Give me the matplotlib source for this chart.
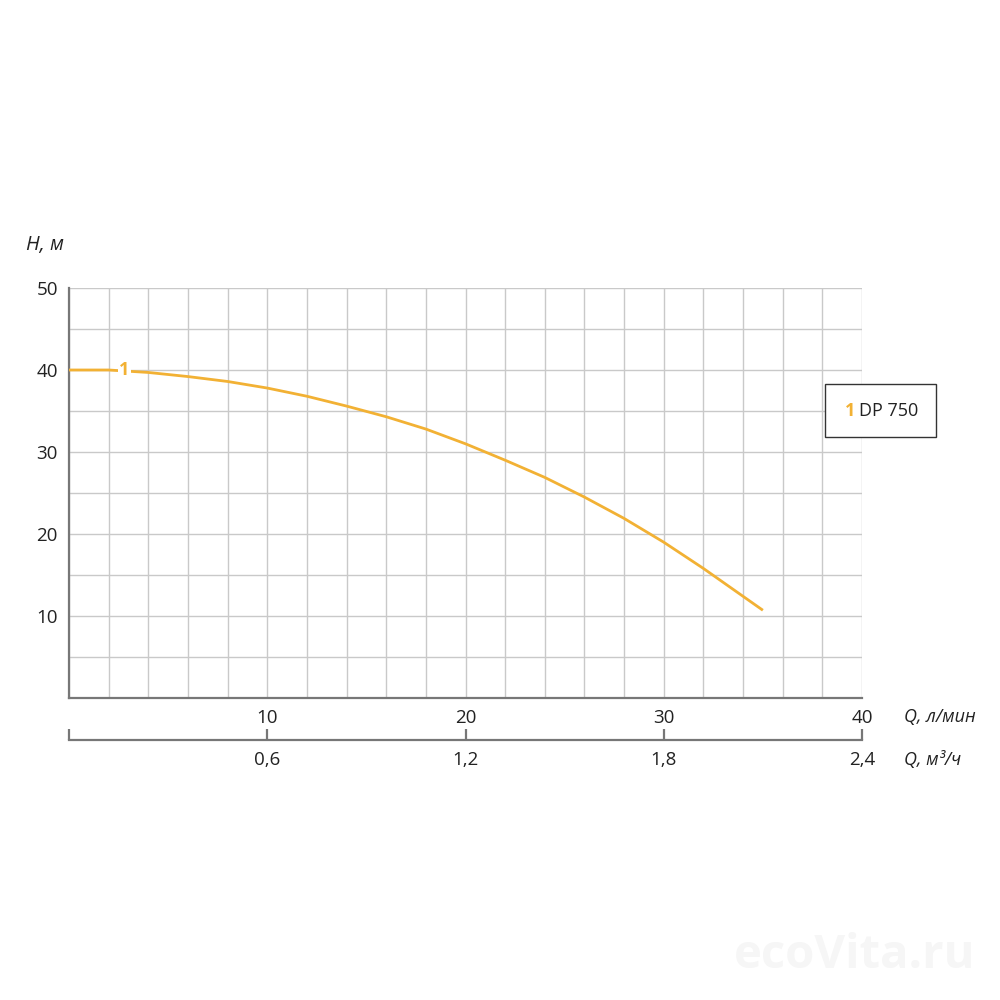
import matplotlib.pyplot as plt
from matplotlib.patches import Rectangle

plt.rcParams['font.family'] = ['Open Sans', 'DejaVu Sans']

# pump curve DP 750
q_lmin = [0, 2, 4, 6, 8, 10, 12, 14, 16, 18, 20, 22, 24, 26, 28, 30, 32, 34, 35]
head_m = [40.0, 40.0, 39.7, 39.2, 38.6, 37.8, 36.8, 35.6, 34.3, 32.8, 31.0,
          29.0, 26.9, 24.5, 21.9, 19.0, 15.8, 12.4, 10.7]

q_ticks = [10, 20, 30, 40]
h_ticks = [10, 20, 30, 40, 50]
m3h_ticks = [0, 0.6, 1.2, 1.8, 2.4]
m3h_labels = ['', '0,6', '1,2', '1,8', '2,4']

curve_color = '#f2b134'
axis_color = '#777777'
grid_color = '#c9c9c9'

fig = plt.figure(figsize=(10, 10), dpi=100)
ax = fig.add_axes([0.069, 0.302, 0.793, 0.41])

ax.plot(q_lmin, head_m, color=curve_color, lw=2.0, zorder=3, solid_capstyle='butt')
ax.text(2.8, 40, '1', color=curve_color, fontsize=13, fontweight='bold',
        ha='center', va='center', zorder=4,
        bbox=dict(facecolor='white', edgecolor='none', pad=1))

ax.set_xlim(0, 40)
ax.set_ylim(0, 50)
ax.set_xticks(range(0, 41, 2), minor=True)
ax.set_yticks(range(0, 51, 5), minor=True)
ax.set_xticks(q_ticks)
ax.set_yticks(h_ticks)
ax.grid(True, which='both', color=grid_color, lw=1)
ax.set_axisbelow(True)
ax.tick_params(which='both', length=0, labelsize=13.5, colors='#222222')
ax.tick_params(axis='x', pad=8)
ax.tick_params(axis='y', pad=8)
for s in ['top', 'right']:
    ax.spines[s].set_visible(False)
for s in ['left', 'bottom']:
    ax.spines[s].set_color(axis_color)
    ax.spines[s].set_linewidth(1.6)

# second flow scale in m3/h
sec = ax.secondary_xaxis(-0.1024, functions=(lambda q: q * 0.06, lambda m: m / 0.06))
sec.set_xticks(m3h_ticks)
sec.set_xticklabels(m3h_labels)
sec.spines['bottom'].set_color(axis_color)
sec.spines['bottom'].set_linewidth(1.6)
sec.tick_params(direction='in', length=8, width=1.6, color=axis_color,
                labelsize=13.5, labelcolor='#222222', pad=8)

fig.text(0.026, 0.755, 'H, м', fontsize=14.5, style='italic', color='#222222',
         va='center', ha='left')
fig.text(0.904, 0.283, 'Q, л/мин', fontsize=13, style='italic', color='#222222',
         va='center', ha='left')
fig.text(0.904, 0.240, 'Q, м³/ч', fontsize=13, style='italic', color='#222222',
         va='center', ha='left')

# legend box
fig.patches.append(Rectangle((0.825, 0.563), 0.111, 0.053, transform=fig.transFigure,
                             facecolor='white', edgecolor='#333333', lw=1))
fig.text(0.845, 0.589, '1', color=curve_color, fontsize=13, fontweight='bold',
         va='center', ha='left')
fig.text(0.859, 0.589, 'DP 750', color='#222222', fontsize=13, va='center', ha='left')

fig.text(0.855, 0.045, 'ecoVita.ru', color='#f6f6f6', fontsize=34, fontweight='bold',
         va='center', ha='center')

fig.savefig('out.png', dpi=100, facecolor='white')
